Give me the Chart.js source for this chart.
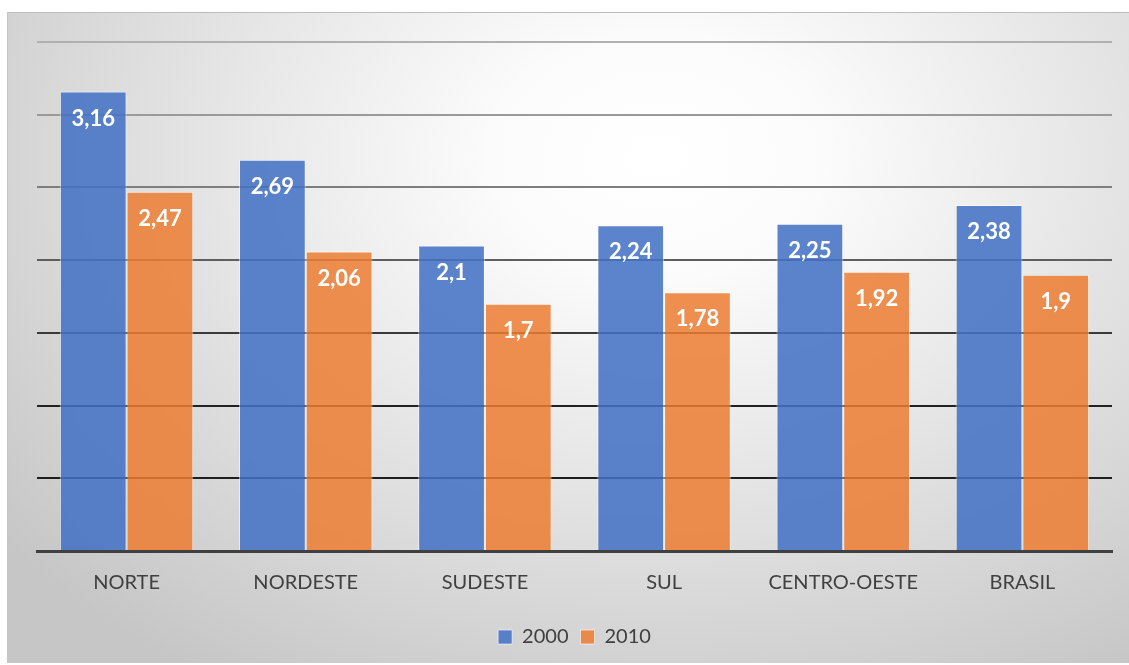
<!DOCTYPE html>
<html>
<head>
<meta charset="utf-8">
<script src="https://cdn.jsdelivr.net/npm/chart.js@4"></script>
<style>
  html, body { margin: 0; padding: 0; background: #fff; }
  #wrap { position: relative; width: 1129px; height: 665px; }
  #bg {
    position: absolute; left: 7px; top: 12px; width: 1122px; height: 651px;
    background: radial-gradient(ellipse 75% 95% at 58% 22%, #ffffff 0%, #fbfbfb 20%, #c6c6c6 100%);
    border-top: 1px solid #bdbdbd; border-left: 1px solid #c4c4c4;
    box-sizing: border-box;
  }
  canvas { position: absolute; left: 0; top: 0; }
</style>
</head>
<body>
<div id="wrap">
  <div id="bg"></div>
  <canvas id="chart" width="1129" height="665"></canvas>
</div>
<script>
// ==================== DADOS ====================
const regions = ['NORTE', 'NORDESTE', 'SUDESTE', 'SUL', 'CENTRO-OESTE', 'BRASIL'];
const values2000 = [3.16, 2.69, 2.1, 2.24, 2.25, 2.38];
const values2010 = [2.47, 2.06, 1.7, 1.78, 1.92, 1.9];
const seriesLabels = ['2000', '2010'];

const FONT = 'Lato, "Open Sans", sans-serif';

// cor das linhas de grade: mais escuras perto da base
function gridColor(value) {
  if (value === 0) return 'rgba(0,0,0,0)';
  const colors = { 0.5: '#1e1e1e', 1: '#222222', 1.5: '#3a3a3a', 2: '#5e5e5e', 2.5: '#7e7e7e', 3: '#9a9a9a', 3.5: '#b0b0b0' };
  return colors[value] || '#999';
}

// rótulos de valor dentro das barras
const barLabels = {
  id: 'barLabels',
  afterDatasetsDraw(chart) {
    const ctx = chart.ctx;
    ctx.save();
    ctx.fillStyle = '#ffffff';
    ctx.font = 'bold 22px ' + FONT;
    ctx.textAlign = 'center';
    ctx.textBaseline = 'middle';
    chart.data.datasets.forEach((ds, i) => {
      chart.getDatasetMeta(i).data.forEach((bar, j) => {
        const text = String(ds.data[j]).replace('.', ',');
        ctx.fillText(text, bar.x, bar.y + 27);
      });
    });
    ctx.restore();
  }
};

new Chart(document.getElementById('chart'), {
  type: 'bar',
  data: {
    labels: regions,
    datasets: [
      {
        label: seriesLabels[0],
        data: values2000,
        backgroundColor: 'rgba(68, 114, 196, 0.87)',
        borderColor: 'rgba(255, 255, 255, 0.55)',
        borderWidth: 1
      },
      {
        label: seriesLabels[1],
        data: values2010,
        backgroundColor: 'rgba(237, 125, 49, 0.85)',
        borderColor: 'rgba(255, 255, 255, 0.55)',
        borderWidth: 1
      }
    ]
  },
  options: {
    responsive: false,
    animation: false,
    datasets: {
      bar: { categoryPercentage: 0.745, barPercentage: 1 }
    },
    layout: { padding: { left: 37, right: 17, top: 42, bottom: 8 } },
    plugins: {
      tooltip: { enabled: false },
      legend: {
        position: 'bottom',
        labels: {
          color: '#404040',
          font: { family: FONT, size: 20 },
          boxWidth: 14,
          boxHeight: 14,
          padding: 12,
          generateLabels(chart) {
            return chart.data.datasets.map((ds, i) => ({
              text: ds.label,
              fillStyle: ds.backgroundColor,
              strokeStyle: 'rgba(255,255,255,0.6)',
              lineWidth: 1,
              fontColor: '#404040',
              datasetIndex: i
            }));
          }
        }
      }
    },
    scales: {
      x: {
        afterFit(scale) { scale.height = 64; },
        grid: { display: false, drawTicks: false },
        border: { display: true, color: '#404040', width: 3 },
        ticks: {
          color: '#404040',
          font: { family: FONT, size: 20 },
          padding: 20,
          maxRotation: 0
        }
      },
      y: {
        min: 0,
        max: 3.5,
        afterFit(scale) { scale.width = 0; },
        ticks: { display: false, stepSize: 0.5 },
        border: { display: false },
        grid: {
          drawTicks: false,
          lineWidth: 2,
          color: (c) => gridColor(c.tick ? c.tick.value : 0)
        }
      }
    }
  },
  plugins: [barLabels]
});
</script>
</body>
</html>
